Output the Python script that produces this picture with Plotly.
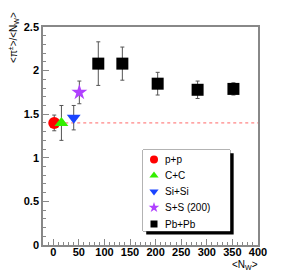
import plotly.graph_objects as go

# Data
systems = ["p+p", "C+C", "Si+Si", "S+S (200)", "Pb+Pb"]
nw_pp = [2]
ratio_pp = [1.40]
err_pp = [0.09]
nw_cc = [16]
ratio_cc = [1.40]
err_cc = [0.20]
nw_sisi = [40]
ratio_sisi = [1.46]
err_sisi = [0.14]
nw_ss = [51]
ratio_ss = [1.75]
err_ss = [0.13]
nw_pbpb = [88, 135, 204, 282, 352]
ratio_pbpb = [2.08, 2.08, 1.85, 1.78, 1.79]
err_pbpb = [0.25, 0.19, 0.13, 0.10, 0.07]
ref_level = 1.40
x_ticks = [0, 50, 100, 150, 200, 250, 300, 350, 400]
y_ticks = [0, 0.5, 1, 1.5, 2, 2.5]

series = [
    (systems[0], nw_pp, ratio_pp, err_pp, "circle", "#ff0000", 12, 8),
    (systems[1], nw_cc, ratio_cc, err_cc, "triangle-up", "#33ee00", 12, 8),
    (systems[2], nw_sisi, ratio_sisi, err_sisi, "triangle-down", "#1a44ff", 12, 8),
    (systems[3], nw_ss, ratio_ss, err_ss, "star", "#b040ff", 12, 8),
    (systems[4], nw_pbpb, ratio_pbpb, err_pbpb, "square", "#000000", 12, 7),
]

fig = go.Figure()

# reference dotted line
fig.add_trace(go.Scatter(x=[0, 400], y=[ref_level, ref_level], mode="lines",
                         line=dict(color="#ff6666", width=1, dash="dot"),
                         showlegend=False, hoverinfo="skip"))

for name, xs, ys, es, sym, col, sz, lsz in series:
    fig.add_trace(go.Scatter(
        x=xs, y=ys, mode="markers", showlegend=False, name=name,
        marker=dict(symbol=sym, color=col, size=sz, line=dict(width=0)),
        error_y=dict(type="data", array=es, visible=True, color="#555555",
                     thickness=1, width=2),
    ))

# custom legend box on an overlay axis (pixel-like units inside the box)
leg_x_dom = [(143 - 43) / 215, (230 - 43) / 215]
leg_y_dom = [(245 - 231) / 218, (245 - 150) / 218]
leg_rows = [9.5, 25.5, 41.5, 57.5, 74]
annotations = []
for i, (name, xs, ys, es, sym, col, sz, lsz) in enumerate(series):
    fig.add_trace(go.Scatter(
        x=[11], y=[leg_rows[i]], xaxis="x2", yaxis="y2", mode="markers",
        showlegend=False, hoverinfo="skip",
        marker=dict(symbol=sym, color=col, size=lsz, line=dict(width=0)),
    ))
    annotations.append(dict(
        text=name, xref="x2", yref="y2", x=20, y=leg_rows[i], xanchor="left",
        yanchor="middle", showarrow=False,
        font=dict(family="Liberation Sans", size=10, color="black")))

axis_common = dict(
    ticks="inside", ticklen=6, tickwidth=1, tickcolor="#888888",
    showline=True, linecolor="#888888", linewidth=1.5, mirror=True,
    showgrid=False, zeroline=False,
    tickfont=dict(family="Liberation Sans", size=11, color="black", weight="bold"),
)

fig.update_xaxes(range=[-20, 400], tickvals=x_ticks, ticklabelstandoff=-4,
                 minor=dict(dtick=10, tick0=0, ticks="inside", ticklen=3,
                            tickcolor="#888888", showgrid=False),
                 **axis_common)
fig.update_yaxes(range=[0, 2.5], tickvals=y_ticks,
                 minor=dict(dtick=0.1, tick0=0, ticks="inside", ticklen=3,
                            tickcolor="#888888", showgrid=False),
                 **axis_common)

shapes = [
    # shadow
    dict(type="rect", xref="paper", yref="paper",
         x0=leg_x_dom[0] + 0.015, x1=leg_x_dom[1] + 0.017,
         y0=leg_y_dom[0] - 0.016, y1=leg_y_dom[1] - 0.015,
         fillcolor="black", line=dict(width=0), layer="below"),
    # box
    dict(type="rect", xref="paper", yref="paper",
         x0=leg_x_dom[0], x1=leg_x_dom[1], y0=leg_y_dom[0], y1=leg_y_dom[1],
         fillcolor="white", line=dict(width=1, color="#666666"), layer="below"),
]

annotations += [
    dict(text="&lt;π<sup>±</sup>&gt;/&lt;N<sub>W</sub>&gt;", textangle=-90,
         xref="paper", yref="paper", x=-0.14, y=1.08, xanchor="center",
         yanchor="top", showarrow=False,
         font=dict(family="Liberation Sans", size=10, color="black")),
    dict(text="&lt;N<sub>W</sub>&gt;", xref="paper", yref="paper",
         x=0.94, y=-0.093, xanchor="center", yanchor="middle", showarrow=False,
         font=dict(family="Liberation Sans", size=10, color="black")),
]

fig.update_layout(
    width=287, height=273,
    margin=dict(l=43, r=29, t=27, b=28),
    paper_bgcolor="white", plot_bgcolor="white",
    showlegend=False,
    xaxis2=dict(domain=leg_x_dom, range=[0, 87], anchor="y2", visible=False,
                fixedrange=True),
    yaxis2=dict(domain=leg_y_dom, range=[81, 0], anchor="x2", visible=False,
                fixedrange=True),
    shapes=shapes,
    annotations=annotations,
)

fig.write_html("out.html", config={"displayModeBar": False},
               post_script="document.body.style.margin='0';"
                           "document.body.style.padding='0';")
